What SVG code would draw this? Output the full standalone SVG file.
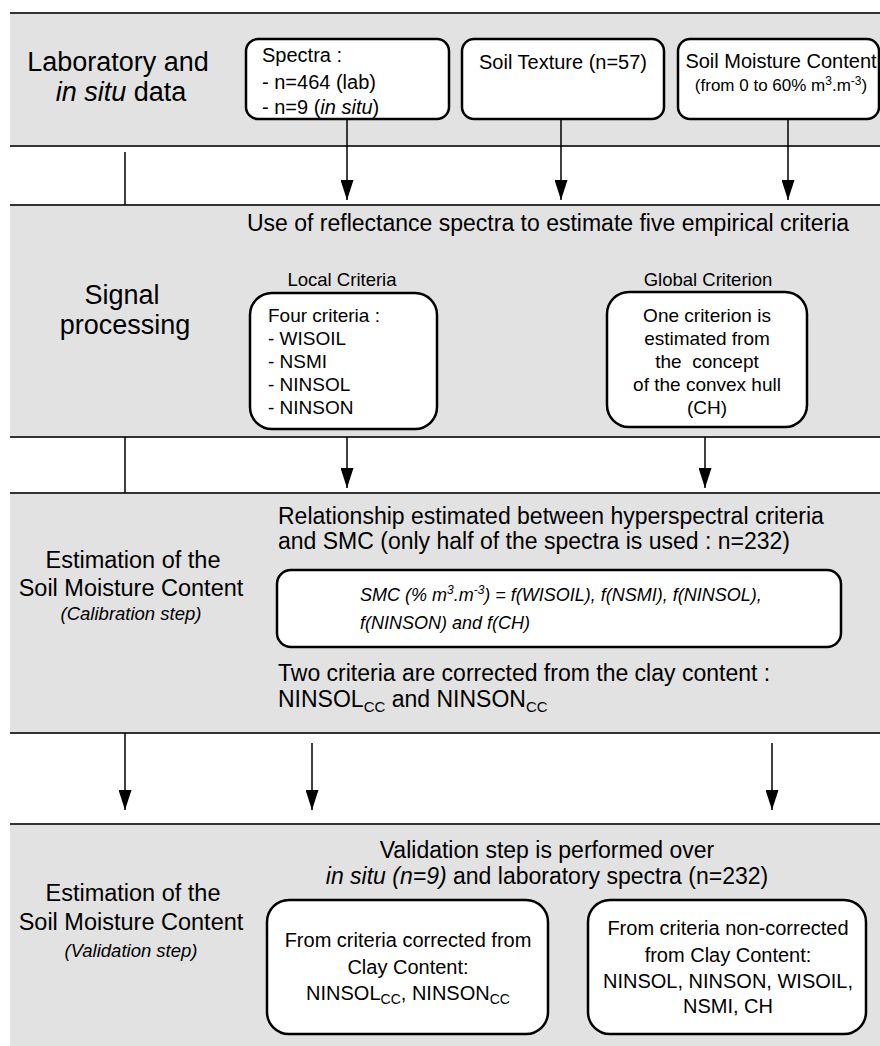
<svg xmlns="http://www.w3.org/2000/svg" width="880" height="1046" viewBox="0 0 880 1046">
  <defs>
    <marker id="ah" viewBox="0 0 20 13" refX="20" refY="6.5" markerWidth="20" markerHeight="13" markerUnits="userSpaceOnUse" orient="auto">
      <path d="M0,0 L20,6.5 L0,13 Z" fill="#000"/>
    </marker>
  </defs>
  <style>
    text { font-family: "Liberation Sans", Arial, sans-serif; fill: #000; }
    .band { fill: #e2e2e2; }
    .bline { stroke: #333; stroke-width: 2; fill: none; }
    .box { fill: #fff; stroke: #000; stroke-width: 2.5; }
    .conn { stroke: #000; stroke-width: 1.5; fill: none; }
    .cap { font-size: 27px; text-anchor: middle; }
    .cap2 { font-size: 23.5px; text-anchor: middle; }
    .hdr { font-size: 23px; }
    .t20 { font-size: 20px; }
    .t19 { font-size: 19px; }
    .lab { font-size: 18.5px; text-anchor: middle; }
    .mid { text-anchor: middle; }
    .it { font-style: italic; }
  </style>

  <!-- Bands -->
  <g id="bands">
    <rect class="band" x="10" y="13" width="870" height="133"/>
    <line class="bline" x1="10" y1="13" x2="880" y2="13"/>
    <line class="bline" x1="10" y1="146" x2="880" y2="146"/>
    <rect class="band" x="10" y="205" width="870" height="232"/>
    <line class="bline" x1="10" y1="205" x2="880" y2="205"/>
    <line class="bline" x1="10" y1="437" x2="880" y2="437"/>
    <rect class="band" x="10" y="493" width="870" height="240"/>
    <line class="bline" x1="10" y1="493" x2="880" y2="493"/>
    <line class="bline" x1="10" y1="733" x2="880" y2="733"/>
    <rect class="band" x="10" y="824" width="870" height="222"/>
    <line class="bline" x1="10" y1="824" x2="880" y2="824"/>
  </g>

  <!-- Captions -->
  <g id="caption-lab">
    <text class="cap" x="118" y="71">Laboratory and</text>
    <text class="cap" x="121" y="101"><tspan class="it">in situ</tspan> data</text>
  </g>
  <g id="caption-signal">
    <text class="cap" x="122" y="304">Signal</text>
    <text class="cap" x="125" y="334">processing</text>
  </g>
  <g id="caption-calibration">
    <text class="cap2" x="133" y="568">Estimation of the</text>
    <text class="cap2" x="131" y="596">Soil Moisture Content</text>
    <text class="cap2 it" x="131" y="620" style="font-size:18.5px">(Calibration step)</text>
  </g>
  <g id="caption-validation">
    <text class="cap2" x="133" y="901">Estimation of the</text>
    <text class="cap2" x="131" y="930">Soil Moisture Content</text>
    <text class="cap2 it" x="131" y="957" style="font-size:18.5px">(Validation step)</text>
  </g>

  <!-- Band 1 nodes -->
  <g id="spectra">
    <rect class="box" x="246" y="39" width="203" height="80" rx="12"/>
    <text class="t20" x="262" y="62">Spectra :</text>
    <text class="t20" x="262" y="89">- n=464 (lab)</text>
    <text class="t20" x="262" y="114">- n=9 (<tspan class="it">in situ</tspan>)</text>
  </g>
  <g id="soil-texture">
    <rect class="box" x="462" y="39" width="202" height="80" rx="12"/>
    <text class="t20 mid" x="563" y="69">Soil Texture (n=57)</text>
  </g>
  <g id="soil-moisture">
    <rect class="box" x="678" y="39" width="201" height="80" rx="12"/>
    <text class="t20 mid" x="781" y="68">Soil Moisture Content</text>
    <text class="mid" x="781" y="91" style="font-size:17px">(from 0 to 60% m<tspan font-size="12" dy="-6">3</tspan><tspan dy="6">.m</tspan><tspan font-size="12" dy="-6">-3</tspan><tspan dy="6">)</tspan></text>
  </g>

  <!-- Band 2 -->
  <g id="signal-header">
    <text class="hdr" x="247" y="231">Use of reflectance spectra to estimate five empirical criteria</text>
  </g>
  <g id="local-criteria">
    <text class="lab" x="342" y="286">Local Criteria</text>
    <rect class="box" x="250" y="293" width="187" height="136" rx="22"/>
    <text class="t19" x="268" y="322">Four criteria :</text>
    <text class="t19" x="268" y="345">- WISOIL</text>
    <text class="t19" x="268" y="368">- NSMI</text>
    <text class="t19" x="268" y="391">- NINSOL</text>
    <text class="t19" x="268" y="414">- NINSON</text>
  </g>
  <g id="global-criterion">
    <text class="lab" x="708" y="286">Global Criterion</text>
    <rect class="box" x="607" y="292" width="200" height="135" rx="22"/>
    <text class="t19 mid" x="707" y="322">One criterion is</text>
    <text class="t19 mid" x="707" y="345">estimated from</text>
    <text class="t19 mid" x="707" y="368" xml:space="preserve">the  concept</text>
    <text class="t19 mid" x="707" y="391">of the convex hull</text>
    <text class="t19 mid" x="707" y="414">(CH)</text>
  </g>

  <!-- Band 3 -->
  <g id="calibration-header">
    <text class="hdr" x="278" y="524">Relationship estimated between hyperspectral criteria</text>
    <text class="hdr" x="278" y="549">and SMC (only half of the spectra is used : n=232)</text>
  </g>
  <g id="formula">
    <rect class="box" x="277" y="570" width="564" height="77" rx="14"/>
    <text class="it" x="360" y="601" style="font-size:18px">SMC (% m<tspan font-size="12" dy="-7">3</tspan><tspan dy="7">.m</tspan><tspan font-size="12" dy="-7">-3</tspan><tspan dy="7">) = f(WISOIL), f(NSMI), f(NINSOL),</tspan></text>
    <text class="it" x="360" y="629" style="font-size:18px">f(NINSON) and f(CH)</text>
  </g>
  <g id="clay-correction">
    <text class="hdr" x="278" y="681">Two criteria are corrected from the clay content :</text>
    <text class="hdr" x="278" y="707">NINSOL<tspan font-size="15" dy="5">CC</tspan><tspan dy="-5"> and NINSON</tspan><tspan font-size="15" dy="5">CC</tspan></text>
  </g>

  <!-- Band 4 -->
  <g id="validation-header">
    <text class="hdr mid" x="547" y="858">Validation step is performed over</text>
    <text class="hdr mid" x="547" y="884"><tspan class="it">in situ (n=9)</tspan> and laboratory spectra (n=232)</text>
  </g>
  <g id="corrected">
    <rect class="box" x="267" y="900" width="281" height="134" rx="22"/>
    <text class="t20 mid" x="408" y="947">From criteria corrected from</text>
    <text class="t20 mid" x="408" y="974">Clay Content:</text>
    <text class="t20 mid" x="408" y="1000">NINSOL<tspan font-size="14" dy="4">CC</tspan><tspan dy="-4">, NINSON</tspan><tspan font-size="14" dy="4">CC</tspan></text>
  </g>
  <g id="non-corrected">
    <rect class="box" x="588" y="900" width="278" height="134" rx="22"/>
    <text class="t20 mid" x="728" y="935">From criteria non-corrected</text>
    <text class="t20 mid" x="728" y="962">from Clay Content:</text>
    <text class="t20 mid" x="728" y="988">NINSOL, NINSON, WISOIL,</text>
    <text class="t20 mid" x="728" y="1013">NSMI, CH</text>
  </g>

  <!-- Connectors -->
  <g id="connectors">
    <line class="conn" x1="125" y1="152" x2="125" y2="205"/>
    <line class="conn" x1="347" y1="119" x2="347" y2="200" marker-end="url(#ah)"/>
    <line class="conn" x1="561" y1="119" x2="561" y2="200" marker-end="url(#ah)"/>
    <line class="conn" x1="788" y1="119" x2="788" y2="200" marker-end="url(#ah)"/>

    <line class="conn" x1="125" y1="437" x2="125" y2="493"/>
    <line class="conn" x1="347" y1="437" x2="347" y2="488" marker-end="url(#ah)"/>
    <line class="conn" x1="705" y1="437" x2="705" y2="488" marker-end="url(#ah)"/>

    <line class="conn" x1="125" y1="733" x2="125" y2="810" marker-end="url(#ah)"/>
    <line class="conn" x1="312" y1="743" x2="312" y2="810" marker-end="url(#ah)"/>
    <line class="conn" x1="772" y1="743" x2="772" y2="810" marker-end="url(#ah)"/>
  </g>
</svg>
